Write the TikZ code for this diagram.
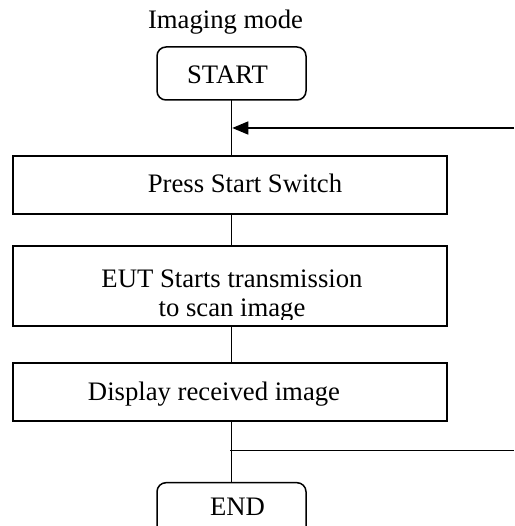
\documentclass[tikz,border=0pt]{standalone}
\usepackage{fontspec}
\setmainfont{Liberation Serif}
\usetikzlibrary{arrows.meta}
\begin{document}
\begin{tikzpicture}[x=1pt,y=-1pt,
  every node/.style={font=\fontsize{26.7}{28.3}\selectfont, inner sep=0pt, outer sep=0pt},
  rbox/.style={draw, line width=1.5pt, rounded corners=9pt, minimum width=149pt},
  pbox/.style={draw, line width=1.5pt, minimum width=434pt},
  txt/.style={anchor=base},
  conn/.style={line width=1.5pt}]
\useasboundingbox (0,0) rectangle (514,526);
% boxes
\node[rbox, minimum height=53pt] (start) at (231.5,73.5) {};
\node[pbox, minimum height=58pt] (b1) at (230,185) {};
\node[pbox, minimum height=80pt] (b2) at (230,286) {};
\node[pbox, minimum height=58pt] (b3) at (230,392) {};
\node[rbox, minimum height=60pt] (end) at (231.5,512.7) {};
% texts
\node[txt] (title) at (225.5,28.3) {Imaging mode};
\node[txt] (tstart) at (227.5,83.3) {START};
\node[txt] (t1) at (245,193) {Press Start Switch};
\node[txt] (t2a) at (232,287) {EUT Starts transmission};
\begin{scope}
\clip (0,0) rectangle (514,319);
\node[txt] (t2b) at (232,316) {to scan image};
\end{scope}
\node[txt] (t3) at (214,400) {Display received image};
\node[txt] (tend) at (237.5,515) {END};
% connectors
\coordinate (ain) at (514,128);
\coordinate (aout) at (514,450.5);
\draw[conn] (start.south) -- (start.south |- b1.north);
\draw[conn] (start.south |- b1.south) -- (start.south |- b2.north);
\draw[conn] (start.south |- b2.south) -- (start.south |- b3.north);
\draw[conn] (start.south |- b3.south) -- (end.north);
\draw[conn, -{Triangle[length=16pt,width=13pt]}] (ain) -- ([xshift=0.75pt]ain -| start.south);
\draw[conn] ([xshift=-1.5pt]aout -| start.south) -- (aout);
\end{tikzpicture}
\end{document}
